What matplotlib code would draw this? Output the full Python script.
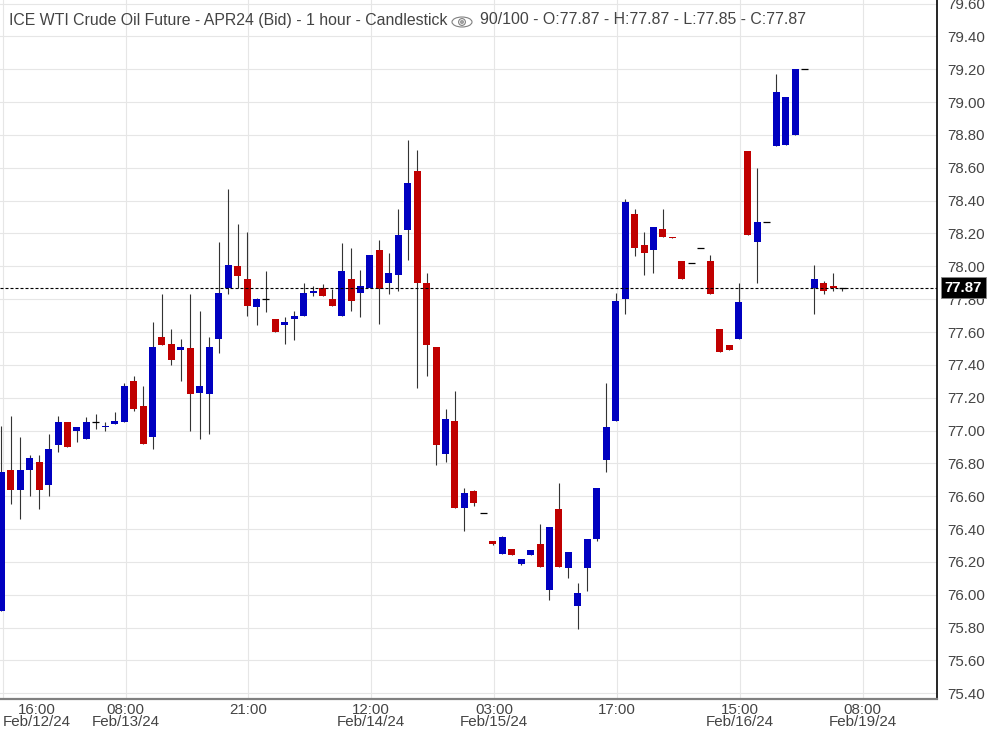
import numpy as np
import matplotlib
matplotlib.use("Agg")
import matplotlib.pyplot as plt
from matplotlib.patches import Ellipse, Circle

opens = [75.90, 76.76, 76.64, 76.76, 76.81, 76.67, 76.91, 77.05, 77.00, 76.95,
         77.05, 77.02, 77.04, 77.05, 77.30, 77.15, 76.96, 77.57, 77.53, 77.49,
         77.50, 77.23, 77.22, 77.56, 77.87, 78.00, 77.92, 77.75, 77.80, 77.68,
         77.64, 77.68, 77.70, 77.84, 77.87, 77.80, 77.70, 77.92, 77.84, 77.87,
         78.10, 77.90, 77.95, 78.22, 78.58, 77.90, 77.51, 76.86, 77.06, 76.53,
         76.63, 76.50, 76.33, 76.25, 76.28, 76.19, 76.24, 76.31, 76.03, 76.52,
         76.16, 75.93, 76.16, 76.34, 76.82, 77.06, 77.80, 78.32, 78.13, 78.10,
         78.23, 78.18, 78.03, 78.02, 78.11, 78.03, 77.62, 77.52, 77.56, 78.70,
         78.15, 78.27, 78.73, 78.74, 78.80, 79.20, 77.87, 77.90, 77.88, 77.87]
highs = [77.03, 77.09, 76.96, 76.85, 76.85, 76.98, 77.09, 77.05, 77.02, 77.08,
         77.10, 77.05, 77.11, 77.29, 77.33, 77.27, 77.66, 77.83, 77.62, 77.56,
         77.83, 77.73, 77.57, 78.15, 78.47, 78.26, 78.21, 77.81, 77.97, 77.68,
         77.69, 77.73, 77.90, 77.88, 77.89, 77.86, 78.14, 78.11, 77.98, 78.07,
         78.16, 78.08, 78.35, 78.77, 78.71, 77.96, 77.51, 77.13, 77.24, 76.65,
         76.64, 76.50, 76.33, 76.36, 76.28, 76.22, 76.27, 76.43, 76.41, 76.68,
         76.26, 76.07, 76.34, 76.65, 77.29, 77.84, 78.41, 78.35, 78.21, 78.24,
         78.35, 78.18, 78.03, 78.02, 78.11, 78.07, 77.62, 77.52, 77.90, 78.70,
         78.60, 78.27, 79.17, 79.03, 79.20, 79.20, 78.01, 77.91, 77.96, 77.87]
lows = [75.90, 76.55, 76.46, 76.60, 76.52, 76.60, 76.87, 76.90, 76.93, 76.95,
        77.01, 77.00, 77.04, 77.05, 77.12, 76.92, 76.89, 77.52, 77.40, 77.30,
        77.00, 76.95, 76.98, 77.47, 77.83, 77.87, 77.70, 77.64, 77.72, 77.60,
        77.53, 77.55, 77.70, 77.82, 77.82, 77.76, 77.70, 77.73, 77.69, 77.87,
        77.65, 77.83, 77.85, 78.04, 77.26, 77.33, 76.79, 76.81, 76.53, 76.39,
        76.54, 76.50, 76.30, 76.25, 76.24, 76.18, 76.24, 76.17, 75.97, 76.17,
        76.10, 75.79, 76.02, 76.33, 76.75, 77.06, 77.71, 78.06, 77.95, 77.96,
        78.18, 78.17, 77.92, 78.02, 78.11, 77.83, 77.48, 77.49, 77.56, 78.19,
        77.90, 78.27, 78.73, 78.74, 78.80, 79.20, 77.71, 77.83, 77.85, 77.85]
closes = [76.75, 76.64, 76.76, 76.83, 76.64, 76.89, 77.05, 76.90, 77.02, 77.05,
          77.05, 77.03, 77.06, 77.27, 77.13, 76.92, 77.51, 77.52, 77.43, 77.51,
          77.22, 77.27, 77.51, 77.84, 78.01, 77.94, 77.76, 77.80, 77.80, 77.60,
          77.66, 77.70, 77.84, 77.85, 77.82, 77.76, 77.97, 77.79, 77.88, 78.07,
          77.86, 77.96, 78.19, 78.51, 77.90, 77.52, 76.91, 77.07, 76.53, 76.62,
          76.56, 76.50, 76.31, 76.35, 76.24, 76.22, 76.27, 76.17, 76.41, 76.17,
          76.26, 76.01, 76.34, 76.65, 77.02, 77.79, 78.39, 78.11, 78.08, 78.24,
          78.18, 78.17, 77.92, 78.02, 78.11, 77.83, 77.48, 77.49, 77.78, 78.19,
          78.27, 78.27, 79.06, 79.03, 79.20, 79.20, 77.92, 77.85, 77.87, 77.87]

price_ticks = [75.4, 75.6, 75.8, 76.0, 76.2, 76.4, 76.6, 76.8, 77.0, 77.2, 77.4,
               77.6, 77.8, 78.0, 78.2, 78.4, 78.6, 78.8, 79.0, 79.2, 79.4, 79.6]
time_ticks = [0, 13, 26, 39, 52, 65, 78, 91]
time_labels = ["16:00\nFeb/12/24", "08:00\nFeb/13/24", "21:00", "12:00\nFeb/14/24",
               "03:00\nFeb/15/24", "17:00", "15:00\nFeb/16/24", "08:00\nFeb/19/24"]
last_price = 77.87

BLUE = "#0000c0"
RED = "#c00000"
TEXT = "#444444"

plt.rcParams["font.family"] = ["Liberation Sans", "DejaVu Sans"]

fig = plt.figure(figsize=(9.9, 7.31), dpi=100)
ax = fig.add_axes([0, 1 - 699 / 731, 937 / 990, 699 / 731])
ax.set_xlim(-0.14, 99.0)
ax.set_ylim(75.365, 79.622)

x = np.arange(len(opens))
o = np.array(opens)
c = np.array(closes)

# wicks, then bodies on top
wicks = ax.vlines(x, lows, highs, color="#333333", linewidth=0.8, zorder=2)
wicks.set_snap(True)
up = c > o
down = c < o
flat = c == o
ax.bar(x[up], (c - o)[up], bottom=o[up], width=0.74, color=BLUE, linewidth=0, zorder=3)
ax.bar(x[down], (o - c)[down], bottom=c[down], width=0.74, color=RED, linewidth=0, zorder=3)
dojis = ax.hlines(o[flat], x[flat] - 0.37, x[flat] + 0.37, color="black", linewidth=0.9, zorder=3)
dojis.set_snap(True)

ax.axhline(last_price, color="black", linewidth=0.8, linestyle=(0, (2.7, 1.8)), zorder=4)

ax.set_axisbelow(True)
ax.grid(True, color="#e6e6e6", linewidth=0.8)
ax.set_yticks(price_ticks)
ax.set_yticklabels([f"{p:.2f}" for p in price_ticks])
ax.yaxis.tick_right()
ax.tick_params(axis="y", length=0, pad=7.3, labelsize=10.8, labelcolor=TEXT)

# grid sits a touch right of the candle centres in the original
ax.set_xticks([t + 0.14 for t in time_ticks])
ax.set_xticklabels(time_labels, linespacing=0.8)
ax.tick_params(axis="x", length=0, pad=3, labelsize=10.9, labelcolor=TEXT)
first = ax.get_xticklabels()[0]
first.set_ha("left")
first.set_multialignment("center")

for side in ["top", "left"]:
    ax.spines[side].set_visible(False)
ax.spines["right"].set_color("black")
ax.spines["right"].set_linewidth(1.2)
ax.spines["bottom"].set_color("#808080")
ax.spines["bottom"].set_linewidth(1.6)

# header
fig.text(9 / 990, 1 - 20 / 731, "ICE WTI Crude Oil Future - APR24 (Bid) - 1 hour - Candlestick",
         fontsize=11.4, color=TEXT, va="center")
fig.text(480 / 990, 1 - 20 / 731, "90/100 - O:77.87 - H:77.87 - L:77.85 - C:77.87",
         fontsize=11.4, color=TEXT, va="center")

# eye icon
eye = fig.add_axes([451 / 990, 1 - 30 / 731, 22 / 990, 16 / 731])
eye.set_xlim(0, 22)
eye.set_ylim(0, 16)
eye.axis("off")
eye.add_patch(Ellipse((11, 8), 20, 10, fill=False, edgecolor="#808080", linewidth=0.8))
eye.add_patch(Circle((11, 8), 3.4, fill=False, edgecolor="#808080", linewidth=0.8))
eye.add_patch(Circle((11, 8), 1.4, color="#a0a0a0"))

# last price flag
ax.annotate(f"{last_price:.2f}", xy=(1, last_price), xycoords=("axes fraction", "data"),
            xytext=(19, 0), textcoords="offset points", ha="center", va="center",
            fontsize=10.8, fontweight="bold", color="white", annotation_clip=False, zorder=10,
            bbox=dict(boxstyle="square,pad=0.24", facecolor="black", edgecolor="#888888", linewidth=0.6))

fig.savefig("out.png", dpi=100, facecolor="white")
